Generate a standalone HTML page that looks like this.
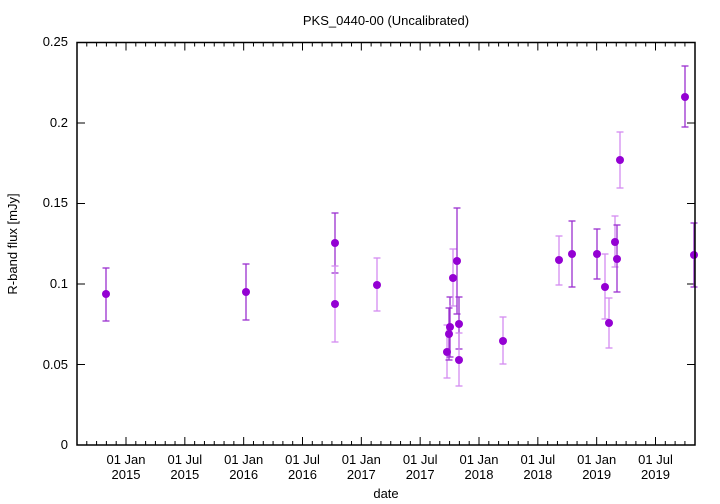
<!DOCTYPE html>
<html><head><meta charset="utf-8"><style>
body{margin:0;background:#fff;}
svg{display:block;font-family:"Liberation Sans",sans-serif;}
</style></head><body>
<svg id="s" width="720" height="504" xmlns="http://www.w3.org/2000/svg">
<rect width="720" height="504" fill="#fff"/>
<text x="386" y="25" font-size="13" text-anchor="middle">PKS_0440-00 (Uncalibrated)</text>
<g id="ticks" stroke="#000" stroke-width="1"></g>
<g font-size="13" text-anchor="end">
<text x="68" y="449">0</text>
<text x="68" y="369">0.05</text>
<text x="68" y="288">0.1</text>
<text x="68" y="207">0.15</text>
<text x="68" y="127">0.2</text>
<text x="68" y="46">0.25</text>
</g>
<g font-size="13" text-anchor="middle" id="xl"></g>
<text x="386" y="498" font-size="13" text-anchor="middle">date</text>
<text transform="translate(17,244) rotate(-90)" font-size="13" text-anchor="middle">R-band flux [mJy]</text>
<g id="data"></g>
<rect x="77" y="42.5" width="618" height="402.5" fill="none" stroke="#000" stroke-width="1.5"/>
</svg>
<script>
var NS="http://www.w3.org/2000/svg";
function el(p,t,a,txt){var e=document.createElementNS(NS,t);for(var k in a)e.setAttribute(k,a[k]);if(txt)e.textContent=txt;document.getElementById(p).appendChild(e);}
for(var i=0;i<=5;i++){var y=445-i*80.5;el("ticks","line",{x1:77,y1:y,x2:85,y2:y});el("ticks","line",{x1:695,y1:y,x2:687,y2:y});}
var step=(479-126)/36;
for(var m=-5;m<62;m++){var x=126+m*step;if(x<78||x>694)continue;var major=(m%6===0);var L=major?8:4;
el("ticks","line",{x1:x,y1:445,x2:x,y2:445-L});el("ticks","line",{x1:x,y1:42.5,x2:x,y2:42.5+L});}
var labs=[["01 Jan","2015"],["01 Jul","2015"],["01 Jan","2016"],["01 Jul","2016"],["01 Jan","2017"],["01 Jul","2017"],["01 Jan","2018"],["01 Jul","2018"],["01 Jan","2019"],["01 Jul","2019"]];
for(var i=0;i<labs.length;i++){var x=126+i*6*step;el("xl","text",{x:x,y:464},labs[i][0]);el("xl","text",{x:x,y:479},labs[i][1]);}
var D="#9a30d0",Lc="#d48cf0";
var pts=[[106,294,268,321,D],[246,292,264,320,D],[335,243,213,273,D],[335,304,266,342,Lc],[377,285,258,311,Lc],
[447,352,325,378,Lc],[450,327,297,357,D],[449,334,308,360,D],[453,278,249,306,Lc],[457,261,208,314,D],[459,324,297,349,D],[459,360,333,386,Lc],
[503,341,317,364,Lc],[559,260,236,285,Lc],[572,254,221,287,D],[597,254,229,279,D],[605,287,254,319,Lc],[609,323,298,348,Lc],[615,242,216,267,Lc],[617,259,225,292,D],[620,160,132,188,Lc],[685,97,66,127,D],[694,255,223,287,D]];
pts.forEach(function(p){el("data","line",{x1:p[0],y1:p[2],x2:p[0],y2:p[3],stroke:p[4],"stroke-width":1.3});
el("data","line",{x1:p[0]-3.5,y1:p[2],x2:p[0]+3.5,y2:p[2],stroke:p[4],"stroke-width":1.3});
el("data","line",{x1:p[0]-3.5,y1:p[3],x2:p[0]+3.5,y2:p[3],stroke:p[4],"stroke-width":1.3});});
pts.forEach(function(p){el("data","circle",{cx:p[0],cy:p[1],r:4,fill:"#9400d3"});});
</script>
</body></html>
